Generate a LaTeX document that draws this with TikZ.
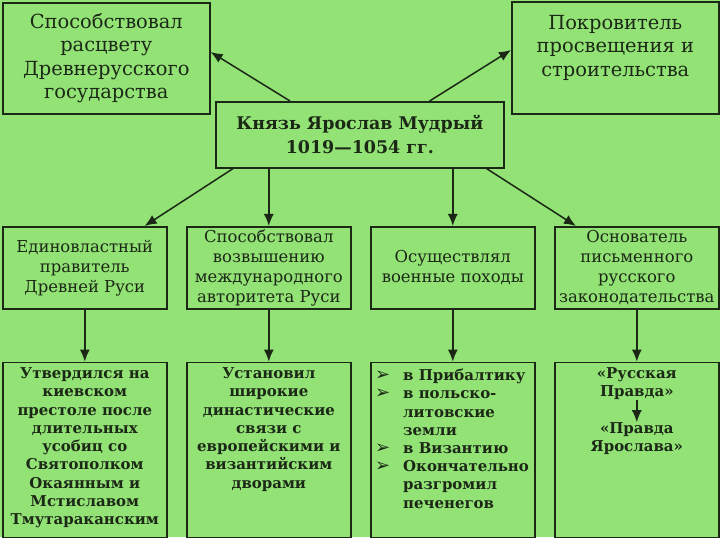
\documentclass[tikz,border=0pt]{standalone}
\usepackage{fontspec}
\setmainfont{DejaVu Serif}
\newfontfamily\symfont{DejaVu Sans}
\usetikzlibrary{arrows.meta,positioning,calc}
\definecolor{bggreen}{RGB}{146,226,118}
\definecolor{ink}{RGB}{28,40,22}
\tikzset{
  >={Latex[length=12bp,width=10bp]},
  box/.style={draw=ink, line width=1.6bp, anchor=north west, inner sep=0pt, text=ink},
  topbox/.style={box, align=center, font=\fontsize{19.5}{23.5}\selectfont},
  toptxt/.style={align=center, inner sep=0pt, text=ink, font=\fontsize{19.5}{23.5}\selectfont},
  mainbox/.style={box, align=center, font=\bfseries\fontsize{17.5}{24}\selectfont},
  midbox/.style={box, align=center, minimum width=164bp, minimum height=82bp, font=\fontsize{16.5}{20}\selectfont},
  lowbox/.style={box, minimum width=164bp, minimum height=175bp},
  lowtxt/.style={align=center, inner sep=0pt, text=ink, font=\bfseries\fontsize{15}{18.3}\selectfont},
  link/.style={->, draw=ink, line width=1.5bp},
}
\newcommand{\arrowbullet}{{\symfont\fontsize{18}{18}\selectfont ➢}}
\begin{document}
\begin{tikzpicture}[x=1bp, y=-1bp]
  \fill[bggreen] (0,0) rectangle (720,537);
  \useasboundingbox (0,0) rectangle (720,540);

  % top row
  \node[topbox, minimum width=207bp, minimum height=111bp] (merit) at (2,2) {Способствовал\\расцвету\\Древнерусского\\государства};
  \node[box, minimum width=207bp, minimum height=112bp] (patron) at (511,1) {};
  \node[toptxt] (patrontxt) at ($(patron.center)+(0,-10)$) {Покровитель\\просвещения и\\строительства};
  \node[mainbox, minimum width=288bp, minimum height=66bp] (prince) at (215,101) {Князь Ярослав Мудрый\\1019—1054 гг.};

  % middle row
  \node[midbox] (sole) at (2,226) {Единовластный\\правитель\\Древней Руси};
  \node[midbox] (glory) at (186,226) {Способствовал\\возвышению\\международного\\авторитета Руси};
  \node[midbox] (campaigns) at (370,226) {Осуществлял\\военные походы};
  \node[midbox] (founder) at (554,226) {Основатель\\письменного\\русского\\законодательства};

  % bottom row
  \node[lowbox, below=52bp of sole] (throne) {};
  \node[lowbox, below=52bp of glory] (ties) {};
  \node[lowbox, below=52bp of campaigns] (wars) {};
  \node[lowbox, below=52bp of founder] (law) {};
  \node[lowtxt, below=6bp of throne.north] (thronetxt) {Утвердился на\\киевском\\престоле после\\длительных\\усобиц со\\Святополком\\Окаянным и\\Мстиславом\\Тмутараканским};
  \node[lowtxt, below=6bp of ties.north] (tiestxt) {Установил\\широкие\\династические\\связи с\\европейскими и\\византийским\\дворами};
  \node[lowtxt, align=left, anchor=north west] (warstxt) at ($(wars.north west)+(5,6)$) {%
    \begin{tabular}{@{}p{28bp}@{}l@{}}
      \arrowbullet & в Прибалтику\\
      \arrowbullet & в польско-\\
                   & литовские\\
                   & земли\\
      \arrowbullet & в Византию\\
      \arrowbullet & Окончательно\\
                   & разгромил\\
                   & печенегов
    \end{tabular}};
  \node[lowtxt, below=6bp of law.north] (rp1) {«Русская\\Правда»};
  \node[lowtxt, below=22bp of rp1] (rp2) {«Правда\\Ярослава»};

  % connectors
  \draw[link] ($(prince.north west)+(75,0)$) -- ($(merit.north east)+(0,50)$);
  \draw[link] ($(prince.north east)+(-75,0)$) -- ($(patron.north west)+(0,49)$);
  \draw[link] ($(prince.south west)+(18,0)$) -- ($(sole.north east)+(-23,0)$);
  \draw[link] (prince.south -| glory.north) -- (glory.north);
  \draw[link] (prince.south -| campaigns.north) -- (campaigns.north);
  \draw[link] ($(prince.south east)+(-18,0)$) -- ($(founder.north west)+(22,0)$);
  \draw[link] (sole) -- (throne);
  \draw[link] (glory) -- (ties);
  \draw[link] (campaigns) -- (wars);
  \draw[link] (founder) -- (law);
  \draw[link] (rp1) -- (rp2);
\end{tikzpicture}
\end{document}
